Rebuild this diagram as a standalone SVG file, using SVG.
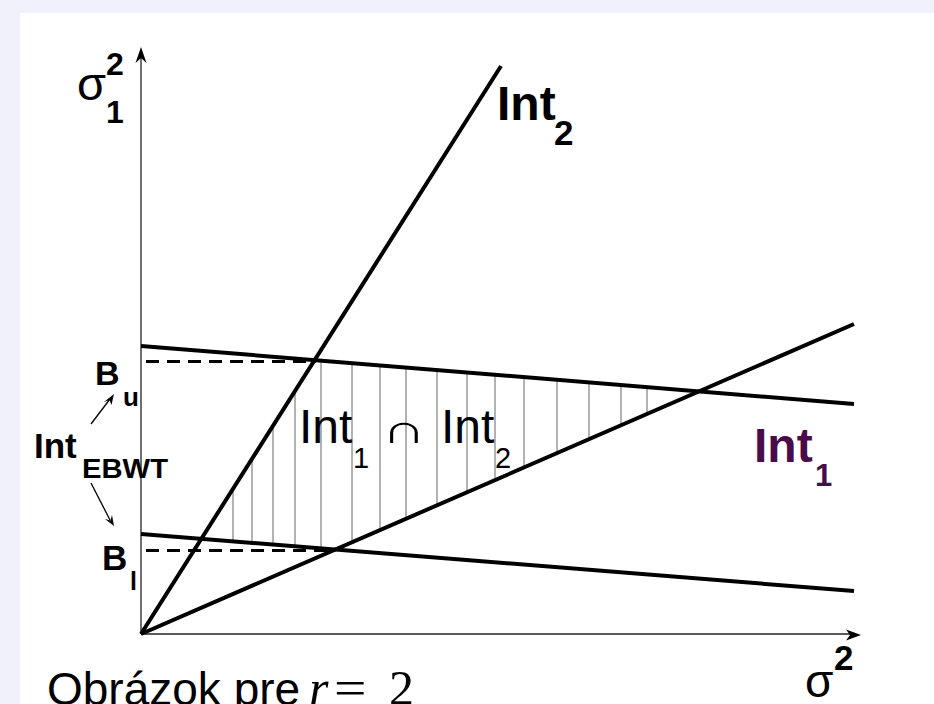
<svg xmlns="http://www.w3.org/2000/svg" width="934" height="704" viewBox="0 0 934 704">
<style>
.t{font-family:"Liberation Sans",Arial,sans-serif;fill:#000}
.b{font-weight:bold}
.m{font-family:"Liberation Serif","Times New Roman",serif;fill:#000}
.main{stroke:#000;stroke-width:4;stroke-linecap:butt;fill:none}
.dash{stroke:#000;stroke-width:3;stroke-dasharray:13 8;fill:none}
.axis{stroke:#222;stroke-width:1.3;fill:none}
.hatch{stroke:#666;stroke-width:1;fill:none}
.thin{stroke:#000;stroke-width:1.3;fill:none}
.head{fill:#000;stroke:none}
.purple{fill:#4a0b4a}
</style>
<rect x="0" y="0" width="934" height="704" fill="#f1f1fc"/>
<rect x="20" y="13" width="914" height="691" fill="#fff"/>

<g id="hatching">
<path class="hatch" d="M233,489V541 M252,459V543 M273,426V544.5 M295,391V546 M321,360.6V548.4 M352,363V542.3 M380,365.4V530 M406,367.5V519 M437,370V505.3 M467,372.5V492.3 M495,374.7V480 M524,377V467.5 M557,379.8V453 M589,382.4V439 M621,385V425.3 M647,387V414"/>
</g>

<g id="axes">
<line class="axis" x1="141" y1="634" x2="141" y2="52"/>
<path class="head" d="M141,47 L146.5,63 L141,58 L135.5,63 Z"/>
<line class="axis" x1="141" y1="634" x2="856" y2="634"/>
<path class="head" d="M861,635 L846,640.5 L850,635 L846,629.5 Z"/>
</g>

<g id="lines">
<line id="int2-line" class="main" x1="141" y1="634" x2="501" y2="66"/>
<line id="int1-line" class="main" x1="141" y1="634" x2="854" y2="324"/>
<line id="upper-line" class="main" x1="141" y1="346" x2="854" y2="404"/>
<line id="lower-line" class="main" x1="141" y1="534" x2="854" y2="591"/>
<line class="dash" x1="146" y1="361.5" x2="316" y2="361.5"/>
<line class="dash" x1="146" y1="550.5" x2="335" y2="550.5"/>
</g>

<g id="connectors">
<line class="thin" x1="91" y1="424" x2="110" y2="399"/>
<path class="head" d="M114,394 L111.5,405 L109.5,400 L104,402 Z"/>
<line class="thin" x1="91" y1="483" x2="110" y2="520"/>
<path class="head" d="M114,526 L105,519 L110.5,520.5 L112,515 Z"/>
</g>

<g id="label-sigma1">
<text class="t" x="77" y="100" font-size="47">σ</text>
<text class="t b" x="106" y="75" font-size="32">2</text>
<text class="t b" x="106" y="123" font-size="32">1</text>
</g>

<g id="label-int2">
<text class="t b" x="497" y="120" font-size="48">Int</text>
<text class="t b" x="554" y="145" font-size="35">2</text>
</g>

<g id="label-int1">
<text class="t b purple" x="754" y="462" font-size="48">Int</text>
<text class="t b purple" x="815" y="486" font-size="31">1</text>
</g>

<g id="label-intersection">
<text class="t" x="299" y="443" font-size="48">Int</text>
<text class="t" x="353" y="468" font-size="29">1</text>
<text transform="translate(382,443) scale(1.55,1)" font-size="40" font-weight="200" font-family="DejaVu Sans, sans-serif">∩</text>
<text class="t" x="441" y="443" font-size="48">Int</text>
<text class="t" x="495" y="468" font-size="29">2</text>
</g>

<g id="label-bu">
<text class="t b" x="95" y="385" font-size="34">B</text>
<text class="t b" x="123" y="406" font-size="26">u</text>
</g>

<g id="label-intebwt">
<text class="t b" x="34" y="458" font-size="35">Int</text>
<text class="t b" x="82" y="478" font-size="27" textLength="86" lengthAdjust="spacingAndGlyphs">EBWT</text>
</g>

<g id="label-bl">
<text class="t b" x="102" y="570" font-size="35">B</text>
<text class="t b" x="130" y="590" font-size="25">l</text>
</g>

<g id="label-sigma2">
<text class="t" x="805" y="697" font-size="46">σ</text>
<text class="t b" x="834" y="670" font-size="35">2</text>
</g>

<g id="caption">
<text class="t" x="47" y="705" font-size="46">Obrázok pre</text>
<text class="m" x="309" y="705" font-size="50" font-style="italic">r</text>
<text class="m" transform="translate(334,705) scale(1.15,1)" font-size="50" font-family="DejaVu Serif, serif">=</text>
<text class="m" x="389" y="705" font-size="50">2</text>
</g>
</svg>
